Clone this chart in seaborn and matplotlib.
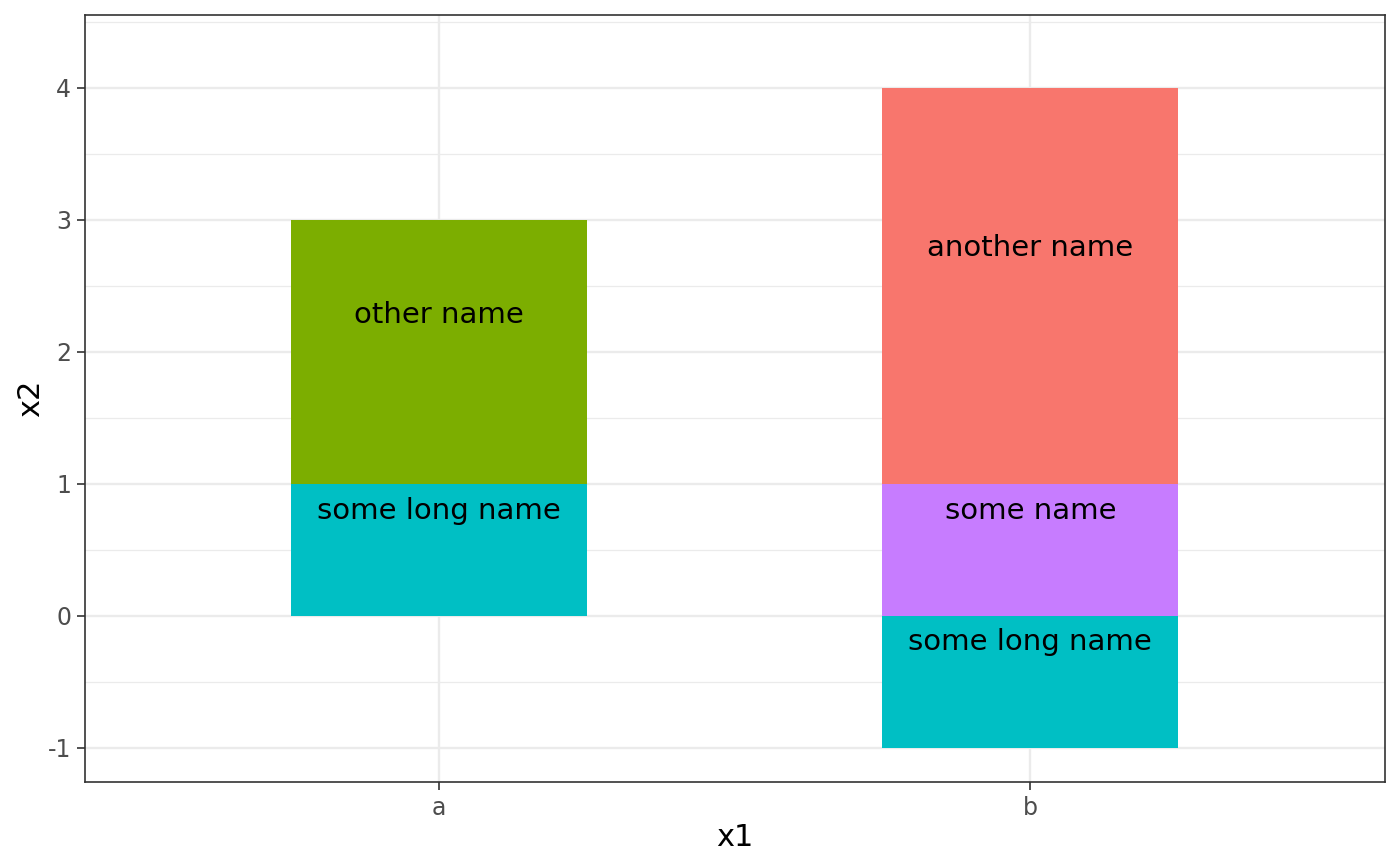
import matplotlib
matplotlib.use("Agg")
import matplotlib.pyplot as plt
import seaborn as sns
import pandas as pd
from matplotlib.ticker import MultipleLocator

# data
x1 = ["a", "a", "b", "b", "b"]
names = ["some long name", "other name", "some long name", "some name", "another name"]
bottoms = [0, 1, -1, 0, 1]
heights = [1, 2, 1, 1, 3]
label_y = [0.795, 2.28, -0.2, 0.795, 2.79]
categories = ["a", "b"]
palette = {"another name": "#F8766D", "other name": "#7CAE00",
           "some long name": "#00BFC4", "some name": "#C77CFF"}

df = pd.DataFrame({"x1": x1, "name": names, "bottom": bottoms,
                   "height": heights, "label_y": label_y})

sns.set_theme(style="white")
plt.rcParams['font.family'] = ['DejaVu Sans']

fig = plt.figure(figsize=(7, 4.33), dpi=200)
ax = fig.add_axes([85/1400, 1-782/866, 1300/1400, (782-15)/866])

for i, row in df.iterrows():
    sub = df.iloc[[i]]
    sns.barplot(data=sub, x="x1", y="height", order=categories,
                color=palette[row["name"]], bottom=row["bottom"], width=0.5,
                saturation=1, ax=ax, errorbar=None, zorder=3, linewidth=0)

for _, row in df.iterrows():
    xi = categories.index(row["x1"])
    ax.text(xi, row["label_y"], row["name"], ha="center", va="center",
            fontsize=10.5, color="black", zorder=4)

ax.set_xlim(-0.599, 1.6)
ax.set_ylim(-1.258, 4.553)
ax.yaxis.set_major_locator(MultipleLocator(1))
ax.yaxis.set_minor_locator(MultipleLocator(0.5))
ax.set_yticks([-1, 0, 1, 2, 3, 4])
ax.set_yticklabels(["-1", "0", "1", "2", "3", "4"])

ax.grid(True, which="major", color="#EBEBEB", linewidth=0.85, zorder=0)
ax.grid(True, which="minor", axis="y", color="#EBEBEB", linewidth=0.45, zorder=0)
ax.set_axisbelow(True)

for s in ax.spines.values():
    s.set_color("#333333")
    s.set_linewidth(0.6)

ax.tick_params(axis="both", which="major", length=3, width=0.6, color="#333333",
               labelsize=8.5, labelcolor="#4D4D4D", pad=2, left=True, bottom=True)
ax.tick_params(axis="both", which="minor", length=0)

ax.set_xlabel("x1", fontsize=11, color="black", labelpad=1)
ax.set_ylabel("x2", fontsize=11, color="black", labelpad=1)

fig.savefig("out.png", dpi=200, facecolor="white")
